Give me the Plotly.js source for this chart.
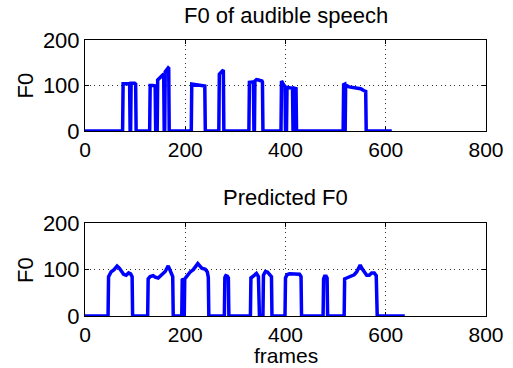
<!DOCTYPE html>
<html>
<head>
<meta charset="utf-8">
<script src="https://cdn.plot.ly/plotly-3.0.1.min.js"></script>
<style>html,body{margin:0;padding:0;background:#fff;}#chart{width:513px;height:368px;}</style>
</head>
<body>
<div id="chart"></div>
<script>
// Top panel: F0 of audible speech (frame, F0)
const audibleFrames = [0,75,76,82,89,90,91,92,96,99,101,102,
  129,130,136,140,141,144,145,150,155,157,158,159,160,164,166,167,168,
  212,213,220,230,236,239,240,
  267,268,271,274,276,277,
  327,328,334,336,337,338,339,342,346,350,353,354,355,
  391,392,395,398,399,400,402,403,409,414,415,417,418,421,422,
  515,516,518,519,520,527,540,550,556,560,561,
  612];
const audibleF0 = [0,0,104,104,104,0,0,105,106,105,103,0,
  0,100,100,99,0,0,112,118,124,125,0,0,130,136,139,138,0,
  0,103,102,101,100,99,0,
  0,125,129,133,134,0,
  0,107,107,108,0,0,110,113,112,111,110,108,0,
  0,110,104,99,97,0,0,96,95,94,0,0,94,93,0,
  0,102,103,0,101,97,95,93,89,87,0,
  0];

// Bottom panel: Predicted F0 (frame, F0)
const predFrames = [0,46,47,52,58,64,68,72,77,82,87,91,94,95,
  125,126,130,136,140,146,152,160,166,170,173,175,176,
  193,194,196,197,198,199,203,210,216,221,225,229,233,240,244,246,247,
  278,279,281,284,286,287,
  330,331,337,342,346,348,355,356,360,364,368,372,373,
  399,400,403,408,420,428,431,432,
  475,476,478,481,483,484,
  517,518,522,530,537,542,546,549,553,557,562,567,572,577,581,583,
  638];
const predF0 = [0,0,85,95,100,108,104,97,90,88,93,91,85,0,
  0,80,85,87,84,82,88,96,108,100,90,85,0,
  0,78,80,0,0,80,86,95,100,108,113,108,103,101,95,83,0,
  0,83,87,86,82,0,
  0,82,87,92,85,0,0,88,96,95,90,85,0,
  0,82,89,91,91,90,85,0,
  0,80,86,86,82,0,
  0,80,82,85,89,95,104,110,102,94,88,88,93,93,87,0,
  0];

const xTicks = [0,200,400,600,800];
const yTicks = [0,100,200];
const titles = ["F0 of audible speech", "Predicted F0"];
const xLabel = "frames";
const yLabel = "F0";

const FONT = "Liberation Sans, Arial, Helvetica, sans-serif";
const W = 513, H = 368;
const lineStyle = {color: 'rgb(0,0,255)', width: 3.5};

const traces = [
  {x: audibleFrames, y: audibleF0, type: 'scatter', mode: 'lines', line: lineStyle, xaxis: 'x', yaxis: 'y', hoverinfo: 'skip'},
  {x: predFrames, y: predF0, type: 'scatter', mode: 'lines', line: lineStyle, xaxis: 'x2', yaxis: 'y2', hoverinfo: 'skip'}
];

function common() {
  return {
    ticks: 'inside', ticklen: 4, tickcolor: '#000', tickwidth: 1,
    showline: true, mirror: 'ticks', linecolor: '#000', linewidth: 1,
    showgrid: true, gridcolor: '#333', griddash: '1px,3.5px', gridwidth: 1,
    zeroline: false, layer: 'below traces', fixedrange: true,
    tickfont: {family: FONT, size: 21, color: '#000'}
  };
}
function xa(anchor) {
  return Object.assign(common(), {
    domain: [85/W, 486/W], range: [0, 800], anchor: anchor,
    tickvals: xTicks, ticktext: xTicks.map(String)
  });
}
function ya(anchor, top, bottom) {
  return Object.assign(common(), {
    domain: [1 - bottom/H, 1 - top/H], range: [0, 200], anchor: anchor,
    tickvals: yTicks, ticktext: yTicks.map(String),
    tickfont: {family: FONT, size: 22, color: '#000'}
  });
}

const ann = (text, x, y, extra) => Object.assign({
  text: text, xref: 'paper', yref: 'paper', x: x/W, y: 1 - y/H,
  xanchor: 'center', yanchor: 'middle', showarrow: false,
  font: {family: FONT, size: 22, color: '#000'}
}, extra || {});

const layout = {
  width: W, height: H,
  margin: {l: 0, r: 0, t: 0, b: 0},
  paper_bgcolor: '#fff', plot_bgcolor: '#fff',
  showlegend: false,
  xaxis: xa('y'), yaxis: ya('x', 40, 131),
  xaxis2: xa('y2'), yaxis2: ya('x2', 223.3, 316),
  annotations: [
    ann(titles[0], 285.5, 15),
    ann(titles[1], 285.5, 198),
    ann(xLabel, 285.5, 355.5, {font: {family: FONT, size: 21, color: '#000'}}),
    ann(yLabel, 25, 85.5, {textangle: -90}),
    ann(yLabel, 25, 270, {textangle: -90})
  ]
};

Plotly.newPlot('chart', traces, layout, {staticPlot: true, displayModeBar: false});
</script>
</body>
</html>
